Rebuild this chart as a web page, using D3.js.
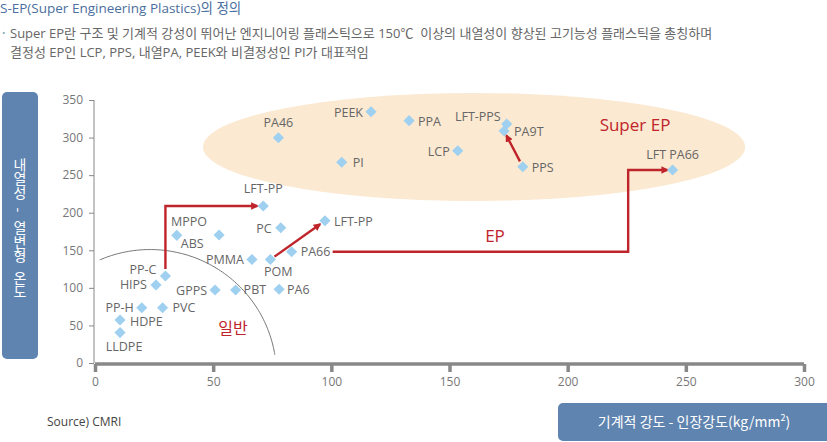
<!DOCTYPE html>
<html><head><meta charset="utf-8">
<script src="https://cdn.jsdelivr.net/npm/d3@7"></script>
<style>
html,body{margin:0;padding:0;background:#fff;}
svg{display:block;font-family:"Open Sans","Noto Sans CJK KR",sans-serif;}
.vt{writing-mode:vertical-rl;text-orientation:upright;word-spacing:-6px;}
.vt .side{text-orientation:sideways;}
</style></head>
<body><svg id="c" width="827" height="442"></svg>
<script>
// ---- data ----
const materials = ["LLDPE","HDPE","PP-H","PVC","HIPS","PP-C","ABS","MPPO","GPPS","PBT","PMMA","POM","PA66","PA6","PC","LFT-PP","LFT-PP","PA46","PEEK","PPA","PI","LCP","LFT-PPS","PA9T","PPS","LFT PA66"];
const tensile  = [10.6,10.6,19.8,28.6,25.8,29.8,34.6,52.5,50.8,59.5,66.4,74.2,83.2,77.9,78.6,71.2,97.3,77.6,116.8,132.9,104.4,153.5,174.2,173.1,181.0,244.4];
const hdt      = [40.5,57.2,73.6,73.6,103.8,115.8,169.9,170.3,97.2,97.2,137.7,137.7,148.1,98.1,180.0,208.9,189.3,299.8,334.4,322.5,267.1,282.5,318.1,308.7,261.2,256.8];
const xTicks = [0,50,100,150,200,250,300];
const yTicks = [0,50,100,150,200,250,300,350];
// arrows: [from index, to index]
const arrowLinks = [[5,15],[11,16],[24,23],[12,25]];
const ep3CornerX = 225.6;
const yTitleParts = ["내열성 ", "-", " 열변형 온도"];

// ---- layout (label placement: dx, dy, anchor) ----
const labelPlace = {
  "LLDPE":[4,18,"middle"],"HDPE":[10,6,"start"],"PP-H":[-8,4,"end"],"PVC":[10,4,"start"],
  "HIPS":[-9,4,"end"],"PP-C":[-9,-2,"end"],"ABS":[4,13,"start"],"MPPO":[-12,-9,"end"],
  "GPPS":[-8,5,"end"],"PBT":[8,4,"start"],"PMMA":[-8,4,"end"],"POM":[8,16,"middle"],
  "PA66":[9,4,"start"],"PA6":[8,5,"start"],"PC":[-9,5,"end"],"PA46":[0,-11,"middle"],
  "PEEK":[-8,5,"end"],"PPA":[9,5,"start"],"PI":[11,5,"start"],"LCP":[-8,5,"end"],
  "LFT-PPS":[-6,-3,"end"],"PA9T":[10,5,"start"],"PPS":[9,5,"start"],"LFT PA66":[0,-11,"middle"]
};

const svg = d3.select("#c");
const x = d3.scaleLinear().domain([0,300]).range([95,804]);
const y = d3.scaleLinear().domain([0,350]).range([363,100]);
const red = "#c0242b";

// title & description
svg.append("text").attr("x",0).attr("y",13).attr("font-size",13.5).attr("fill","#4b6fa0")
  .text("S-EP(Super Engineering Plastics)의 정의");
svg.append("text").attr("x",2).attr("y",36).attr("font-size",9).attr("fill","#8ab").text("•");
svg.append("text").attr("x",10).attr("y",38).attr("font-size",13).attr("fill","#666")
  .text("Super EP란 구조 및 기계적 강성이 뛰어난 엔지니어링 플래스틱으로 150℃\u00a0\u00a0이상의 내열성이 향상된 고기능성 플래스틱을 총칭하며");
svg.append("text").attr("x",10).attr("y",57).attr("font-size",13).attr("fill","#666")
  .text("결정성 EP인 LCP, PPS, 내열PA, PEEK와 비결정성인 PI가 대표적임");

// Super EP ellipse
const ell = {cx:160.4, cy:287.5, rx:114.7, ry:71.9};
svg.append("ellipse").attr("cx",x(ell.cx)).attr("cy",y(ell.cy))
  .attr("rx",x(ell.rx)-x(0)).attr("ry",y(0)-y(ell.ry)).attr("fill","#fbe9d1");

// general boundary arc
const arc = {cx:23.3, cy:-16, rx:53.5, ry:167};
const arcPts = d3.range(-0.41,1.43,0.02).map(t=>[arc.cx+arc.rx*Math.sin(t), arc.cy+arc.ry*Math.cos(t)]);
svg.append("path").attr("d", d3.line().x(d=>x(d[0])).y(d=>y(d[1])).curve(d3.curveBasis)(arcPts))
  .attr("fill","none").attr("stroke","#777").attr("stroke-width",1);

// axes
const yAxis = svg.append("g").attr("transform",`translate(${x(0)-1},0)`)
  .call(d3.axisLeft(y).tickValues(yTicks).tickSize(5).tickPadding(6));
yAxis.select(".domain").attr("stroke","#888").attr("d",`M0,${y(350)}V${y(0)}`);
yAxis.selectAll(".tick line").attr("stroke","#888");
yAxis.selectAll(".tick text").attr("fill","#777").attr("font-size",12).attr("font-family","Open Sans");

const xAxis = svg.append("g").attr("transform",`translate(0,${y(0)+1})`)
  .call(d3.axisBottom(x).tickValues(xTicks).tickSize(8).tickPadding(5));
xAxis.select(".domain").attr("stroke","#888").attr("stroke-width",3.5).attr("d",`M${x(0)},0H${x(300)}`);
xAxis.selectAll(".tick line").attr("stroke","#888").attr("stroke-width",3.5);
xAxis.selectAll(".tick text").attr("fill","#777").attr("font-size",12).attr("font-family","Open Sans");

// arrow marker
const defs = svg.append("defs");
defs.append("marker").attr("id","ah").attr("viewBox","0 0 10 10").attr("refX",8).attr("refY",5)
  .attr("markerWidth",3.2).attr("markerHeight",3.2).attr("orient","auto")
  .append("path").attr("d","M0,0L10,5L0,10z").attr("fill",red);

function shorten(p0,p1,d){const dx=p1[0]-p0[0],dy=p1[1]-p0[1],L=Math.hypot(dx,dy);return [p1[0]-dx/L*d,p1[1]-dy/L*d];}
function startOff(p0,p1,d){const dx=p1[0]-p0[0],dy=p1[1]-p0[1],L=Math.hypot(dx,dy);return [p0[0]+dx/L*d,p0[1]+dy/L*d];}
const P = i=>[x(tensile[i]),y(hdt[i])];
const arrowPaths = [];
{ const a=P(arrowLinks[0][0]), b=P(arrowLinks[0][1]);
  arrowPaths.push([[a[0],a[1]-7],[a[0],b[1]],[b[0]-6,b[1]]]); }
{ const a=P(arrowLinks[1][0]), b=P(arrowLinks[1][1]);
  arrowPaths.push([startOff(a,b,5),shorten(a,b,6)]); }
{ const a=P(arrowLinks[2][0]), b=P(arrowLinks[2][1]);
  arrowPaths.push([startOff(a,b,6),shorten(a,b,5)]); }
{ const a=P(arrowLinks[3][0]), b=P(arrowLinks[3][1]);
  arrowPaths.push([[a[0]+41,a[1]],[x(ep3CornerX),a[1]],[x(ep3CornerX),b[1]],[b[0]-5,b[1]]]); }
svg.append("g").selectAll("path").data(arrowPaths).join("path")
  .attr("d",d=>d3.line()(d)).attr("fill","none").attr("stroke",red).attr("stroke-width",2.4)
  .attr("marker-end","url(#ah)");

// points
const sym = d3.symbol().type(d3.symbolSquare).size(62);
svg.append("g").selectAll("path").data(materials.map((m,i)=>i)).join("path")
  .attr("d",sym).attr("transform",i=>`translate(${x(tensile[i])},${y(hdt[i])}) rotate(45)`)
  .attr("fill","#9fd0f0");

// point labels
const lftPP = [[0,-13,"middle"],[9,5,"start"]];
let lftCount=0;
svg.append("g").selectAll("text").data(materials.map((m,i)=>i)).join("text")
  .each(function(i){
    let pl = materials[i]==="LFT-PP" ? lftPP[lftCount++] : labelPlace[materials[i]];
    d3.select(this).attr("x",x(tensile[i])+pl[0]).attr("y",y(hdt[i])+pl[1]).attr("text-anchor",pl[2]);
  })
  .attr("font-size",12.5).attr("fill","#666").text(i=>materials[i]);

// region labels
svg.append("text").attr("x",635).attr("y",131).attr("text-anchor","middle").attr("font-size",17).attr("fill",red).text("Super EP");
svg.append("text").attr("x",495).attr("y",242).attr("text-anchor","middle").attr("font-size",17).attr("fill",red).text("EP");
svg.append("text").attr("x",233).attr("y",334).attr("text-anchor","middle").attr("font-size",16).attr("font-family","Noto Sans CJK KR").attr("fill",red).text("일반");

// y axis title box: vertical upright text
svg.append("rect").attr("x",2).attr("y",92).attr("width",36).attr("height",267).attr("rx",5).attr("fill","#5f84b0");
const yt = svg.append("text").attr("class","vt").attr("x",20).attr("y",228)
  .attr("text-anchor","middle").attr("fill","#fff").attr("font-size",14)
  .attr("font-family","Noto Sans CJK KR").attr("xml:space","preserve");
yt.append("tspan").text(yTitleParts[0]);
yt.append("tspan").attr("class","side").text(yTitleParts[1]);
yt.append("tspan").text(yTitleParts[2]);

// x axis title box
svg.append("rect").attr("x",558).attr("y",403).attr("width",275).attr("height",38).attr("rx",5).attr("fill","#5f84b0");
const xt = svg.append("text").attr("x",694).attr("y",427).attr("text-anchor","middle")
  .attr("font-size",14).attr("fill","#fff").attr("font-family","Noto Sans CJK KR");
xt.append("tspan").text("기계적 강도 - 인장강도(kg/mm");
xt.append("tspan").attr("font-size",9).attr("dy",-6).text("2");
xt.append("tspan").attr("dy",6).text(")");

// source
svg.append("text").attr("x",47).attr("y",426).attr("font-size",12).attr("fill","#444").text("Source) CMRI");
</script></body></html>
